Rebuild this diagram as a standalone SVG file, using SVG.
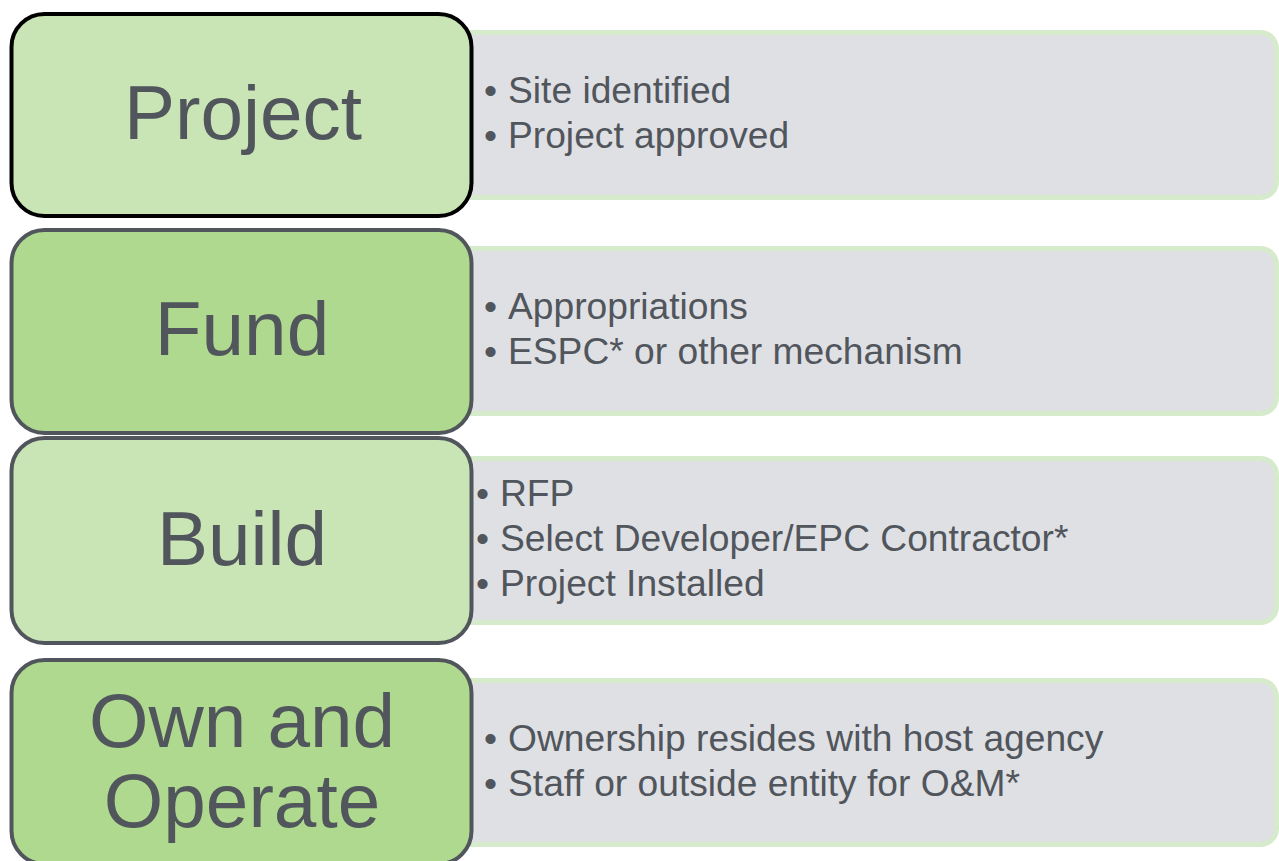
<svg xmlns="http://www.w3.org/2000/svg" width="1279" height="861" viewBox="0 0 1279 861">
<style>
.panel{fill:#dfe0e4;stroke:#d6ebcb;stroke-width:5}
.light{fill:#cae5b5}
.dark{fill:#afd98e}
.box{stroke:#51555c;stroke-width:4}
.title{font-family:"Liberation Sans",Arial,sans-serif;font-size:76.5px;fill:#51555c;text-anchor:middle}
.item{font-family:"Liberation Sans",Arial,sans-serif;font-size:37.2px;fill:#51555c}
</style>
<rect width="1279" height="861" fill="#ffffff"/>
<g id="connectors"></g>
<g id="project">
<rect class="panel" x="440" y="32.5" width="836.5" height="165" rx="16"/>
<rect class="light" x="11.5" y="14" width="460" height="202" rx="33" stroke="#000000" stroke-width="4"/>
<text class="title" x="243" y="139">Project</text>
<text class="item" x="484" y="103">•</text><text class="item" x="508" y="103">Site identified</text>
<text class="item" x="484" y="148">•</text><text class="item" x="508" y="148">Project approved</text>
</g>
<g id="fund">
<rect class="panel" x="440" y="248.5" width="836.5" height="165" rx="16"/>
<rect class="dark box" x="11.5" y="230" width="460" height="203" rx="33"/>
<text class="title" x="242" y="355">Fund</text>
<text class="item" x="484" y="319">•</text><text class="item" x="508" y="319">Appropriations</text>
<text class="item" x="484" y="364">•</text><text class="item" x="508" y="364">ESPC* or other mechanism</text>
</g>
<g id="build">
<rect class="panel" x="440" y="458.5" width="836.5" height="164" rx="16"/>
<rect class="light box" x="11.5" y="438" width="460" height="205" rx="33"/>
<text class="title" x="242" y="565">Build</text>
<text class="item" x="476" y="506">•</text><text class="item" x="500" y="506">RFP</text>
<text class="item" x="476" y="551">•</text><text class="item" x="500" y="551">Select Developer/EPC Contractor*</text>
<text class="item" x="476" y="596">•</text><text class="item" x="500" y="596">Project Installed</text>
</g>
<g id="own-and-operate">
<rect class="panel" x="440" y="680.5" width="836.5" height="164" rx="16"/>
<rect class="dark box" x="11.5" y="660" width="460" height="204" rx="33"/>
<text class="title" x="242" y="747">Own and</text>
<text class="title" x="242" y="827">Operate</text>
<text class="item" x="484" y="751">•</text><text class="item" x="508" y="751">Ownership resides with host agency</text>
<text class="item" x="484" y="796">•</text><text class="item" x="508" y="796">Staff or outside entity for O&amp;M*</text>
</g>
</svg>
